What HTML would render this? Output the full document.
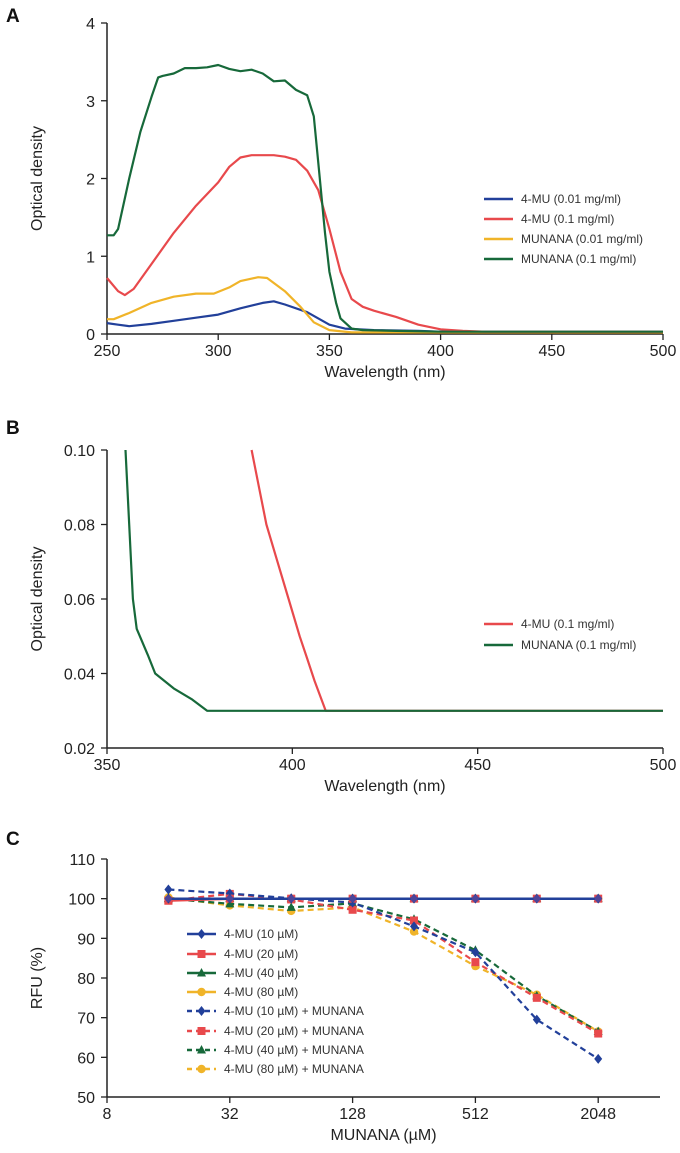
<!DOCTYPE html>
<html><head><meta charset="utf-8">
<style>
html,body{margin:0;padding:0;background:#fff;}
svg{display:block;font-family:"Liberation Sans",sans-serif;}
</style></head>
<body>
<svg id="fig" width="680" height="1153" viewBox="0 0 680 1153">
</svg>
<script>
// ---------- Panel A data ----------
const aGreenX=[250,253,255,260,265,270,273,275,280,285,290,295,300,305,310,315,320,325,330,335,340,343,345,348,350,353,355,360,365,380,400,500];
const aGreenY=[1.27,1.27,1.35,2.0,2.6,3.05,3.3,3.32,3.35,3.42,3.42,3.43,3.46,3.41,3.38,3.4,3.35,3.25,3.26,3.14,3.07,2.8,2.2,1.3,0.8,0.4,0.2,0.07,0.05,0.04,0.03,0.03];
const aRedX=[250,255,258,262,270,280,290,300,305,310,315,325,330,335,340,345,350,355,360,365,370,380,390,400,410,420,500];
const aRedY=[0.72,0.55,0.5,0.58,0.9,1.3,1.65,1.95,2.15,2.27,2.3,2.3,2.28,2.24,2.1,1.85,1.35,0.8,0.45,0.35,0.3,0.22,0.12,0.06,0.04,0.03,0.03];
const aYelX=[250,253,260,270,280,290,298,305,310,318,322,330,337,343,350,360,500];
const aYelY=[0.19,0.19,0.27,0.4,0.48,0.52,0.52,0.6,0.68,0.73,0.72,0.55,0.35,0.15,0.05,0.02,0.02];
const aBlueX=[250,255,260,270,280,290,300,310,320,325,330,340,345,350,357,370,390,400,500];
const aBlueY=[0.14,0.12,0.1,0.13,0.17,0.21,0.25,0.33,0.4,0.42,0.38,0.28,0.2,0.12,0.07,0.05,0.04,0.03,0.03];
const aXTicks=[250,300,350,400,450,500];
const aYTicks=[0,1,2,3,4];
// ---------- Panel B data ----------
const bGreenX=[355,356,357,358,361,363,368,373,377,500];
const bGreenY=[0.10,0.08,0.06,0.052,0.045,0.04,0.036,0.033,0.03,0.03];
const bRedX=[389,391,393,396,399,402,404,406,409,500];
const bRedY=[0.10,0.09,0.08,0.07,0.06,0.05,0.044,0.038,0.03,0.03];
const bXTicks=[350,400,450,500];
const bYTicks=[0.02,0.04,0.06,0.08,0.10];
// ---------- Panel C data ----------
const cX=[16,32,64,128,256,512,1024,2048];
const cSolid10=[100,100,100,100,100,100,100,100];
const cSolid20=[99.5,100,100,100,100,100,100,100];
const cSolid40=[100,100,100,100,100,100,100,100];
const cSolid80=[100,100,100,100,100,100,100,100];
const cDash10=[102.3,101.3,100.1,99.0,93,86.5,69.5,59.6];
const cDash20=[99.5,101.2,99.8,97.2,94.5,84,75,66];
const cDash40=[100,98.7,97.8,98.8,94.8,87,75.5,66.5];
const cDash80=[100.3,98.3,96.9,97.8,91.7,83,75.8,66.5];
const cXTicks=[8,32,128,512,2048];
const cYTicks=[50,60,70,80,90,100,110];

const NS="http://www.w3.org/2000/svg";
const svg=document.getElementById('fig');
const BLUE="#22409a",RED="#e8494c",GREEN="#17693a",YEL="#f0b429";
function mk(tag,attrs,parent){const e=document.createElementNS(NS,tag);for(const k in attrs)e.setAttribute(k,attrs[k]);(parent||svg).appendChild(e);return e;}
function txt(s,x,y,size,anchor,extra,parent){const t=mk('text',Object.assign({x:x,y:y,'font-size':size,'text-anchor':anchor||'start',fill:'#222'},extra||{}),parent);t.textContent=s;return t;}
function lin(d0,d1,r0,r1){return v=>r0+(v-d0)/(d1-d0)*(r1-r0);}

function axes(g,x0,x1,y0,y1,xs,ys,xT,yT,xFmt,yFmt,xTitle,yTitle,xTitleY,yTitleX){
  const ax=mk('g',{},g);
  
  
  mk('line',{x1:x0,y1:y0,x2:x1,y2:y0,stroke:'#222','stroke-width':1.5},ax);
  mk('line',{x1:x0,y1:y0,x2:x0,y2:y1,stroke:'#222','stroke-width':1.5},ax);
  xT.forEach(v=>{const x=xs(v);mk('line',{x1:x,y1:y0,x2:x,y2:y0+6,stroke:'#222','stroke-width':1.3},ax);
    const t=txt(xFmt(v),x,y0+22,16,'middle',null,ax);
    
    });
  yT.forEach(v=>{const y=ys(v);mk('line',{x1:x0-6,y1:y,x2:x0,y2:y,stroke:'#222','stroke-width':1.3},ax);
    const t=txt(yFmt(v),x0-12,y+6,16,'end',null,ax);
    
    });
  const xt=txt(xTitle,(x0+x1)/2,xTitleY,16,'middle',null,ax);
  
  
  const yc=(y0+y1)/2;
  const yt=txt(yTitle,yTitleX,yc,16,'middle',{transform:`rotate(-90 ${yTitleX} ${yc})`},ax);
  
  
}
function path(g,X,Y,xs,ys,color,w,dash){
  const d=X.map((x,i)=>(i?'L':'M')+xs(x).toFixed(1)+' '+ys(Y[i]).toFixed(1)).join(' ');
  const p=mk('path',{d:d,fill:'none',stroke:color,'stroke-width':w,'stroke-linejoin':'round'},g);
  if(dash)p.setAttribute('stroke-dasharray',dash);
  return p;
}
function drawMarker(g,type,x,y,c){
  let m;
  if(type==='d')m=mk('polygon',{points:`${x},${y-5} ${x+4},${y} ${x},${y+5} ${x-4},${y}`,fill:c},g);
  else if(type==='s')m=mk('rect',{x:x-4,y:y-4,width:8,height:8,fill:c},g);
  else if(type==='t')m=mk('polygon',{points:`${x},${y-5} ${x+4.5},${y+3.5} ${x-4.5},${y+3.5}`,fill:c},g);
  else m=mk('circle',{cx:x,cy:y,r:4.2,fill:c},g);
  return m;
}
function legendLine(g,x,y,color,label,dash,marker){
  const l=mk('g',{},g);
  
  
  const ln=mk('line',{x1:x,y1:y,x2:x+29,y2:y,stroke:color,'stroke-width':2.5},l);
  if(dash)ln.setAttribute('stroke-dasharray',dash);
  if(marker)drawMarker(l,marker,x+14.5,y,color);
  txt(label,x+37,y+4,12,'start',{fill:'#333'},l);
}

// ---------- Panel A ----------
const gA=mk('g',{});


const pA=txt('A',6,22,19,'start',{'font-weight':'bold',fill:'#111'});


const axA=lin(250,500,107,663), ayA=lin(0,4,334,23);
axes(gA,107,663,334,23,axA,ayA,aXTicks,aYTicks,v=>String(v),v=>String(v),'Wavelength (nm)','Optical density',377,42);
[[aBlueX,aBlueY,BLUE,'series-4mu-001'],[aYelX,aYelY,YEL,'series-munana-001'],[aRedX,aRedY,RED,'series-4mu-01'],[aGreenX,aGreenY,GREEN,'series-munana-01']].forEach(s=>{
  const p=path(gA,s[0],s[1],axA,ayA,s[2],2.2);
  
  
});
const lgA=mk('g',{},gA);


legendLine(lgA,484,199,BLUE,'4-MU (0.01 mg/ml)');
legendLine(lgA,484,219,RED,'4-MU (0.1 mg/ml)');
legendLine(lgA,484,239,YEL,'MUNANA (0.01 mg/ml)');
legendLine(lgA,484,259,GREEN,'MUNANA (0.1 mg/ml)');

// ---------- Panel B ----------
const gB=mk('g',{});


const pB=txt('B',6,434,19,'start',{'font-weight':'bold',fill:'#111'});


const axB=lin(350,500,107,663), ayB=lin(0.02,0.10,748,450);
axes(gB,107,663,748,450,axB,ayB,bXTicks,bYTicks,v=>String(v),v=>v.toFixed(2),'Wavelength (nm)','Optical density',791,42);
[[bRedX,bRedY,RED,'series-4mu-01'],[bGreenX,bGreenY,GREEN,'series-munana-01']].forEach(s=>{
  const p=path(gB,s[0],s[1],axB,ayB,s[2],2.2);
  
  
});
const lgB=mk('g',{},gB);


legendLine(lgB,484,624,RED,'4-MU (0.1 mg/ml)');
legendLine(lgB,484,645,GREEN,'MUNANA (0.1 mg/ml)');

// ---------- Panel C ----------
const gC=mk('g',{});


const pC=txt('C',6,845,19,'start',{'font-weight':'bold',fill:'#111'});


const axC=v=>107+(Math.log2(v)-3)*61.4, ayC=lin(50,110,1097,859);
axes(gC,107,660,1097,859,axC,ayC,cXTicks,cYTicks,v=>String(v),v=>String(v),'MUNANA (\u00b5M)','RFU (%)',1140,42);
const dashSeries=[[cDash80,YEL,'d80','c'],[cDash40,GREEN,'d40','t'],[cDash20,RED,'d20','s'],[cDash10,BLUE,'d10','d']];
dashSeries.forEach(s=>{
  const g=mk('g',{},gC);
  
  
  path(g,cX,s[0],axC,ayC,s[1],2.2,'6 4');
  cX.forEach((x,i)=>drawMarker(g,s[3],axC(x),ayC(s[0][i]),s[1]));
});
const solidSeries=[[cSolid80,YEL,'s80','c'],[cSolid40,GREEN,'s40','t'],[cSolid20,RED,'s20','s'],[cSolid10,BLUE,'s10','d']];
solidSeries.forEach(s=>{
  const g=mk('g',{},gC);
  
  
  path(g,cX,s[0],axC,ayC,s[1],2.5);
  cX.forEach((x,i)=>drawMarker(g,s[3],axC(x),ayC(s[0][i]),s[1]));
});
cX.forEach((x,i)=>{const m=drawMarker(gC,'c',axC(x),ayC(cSolid10[i]),'#6a4a9a');m.setAttribute('r',3.5);m.setAttribute('opacity',0.6);});
const lgC=mk('g',{},gC);


const legC=[[BLUE,'4-MU (10 \u00b5M)',null,'d'],[RED,'4-MU (20 \u00b5M)',null,'s'],[GREEN,'4-MU (40 \u00b5M)',null,'t'],[YEL,'4-MU (80 \u00b5M)',null,'c'],
[BLUE,'4-MU (10 \u00b5M) + MUNANA','5 4','d'],[RED,'4-MU (20 \u00b5M) + MUNANA','5 4','s'],[GREEN,'4-MU (40 \u00b5M) + MUNANA','5 4','t'],[YEL,'4-MU (80 \u00b5M) + MUNANA','5 4','c']];
const legCY=[934,954,973,992,1011,1031,1050,1069];
legC.forEach((e,i)=>legendLine(lgC,187,legCY[i],e[0],e[1],e[2],e[3]));
</script>
</body></html>
